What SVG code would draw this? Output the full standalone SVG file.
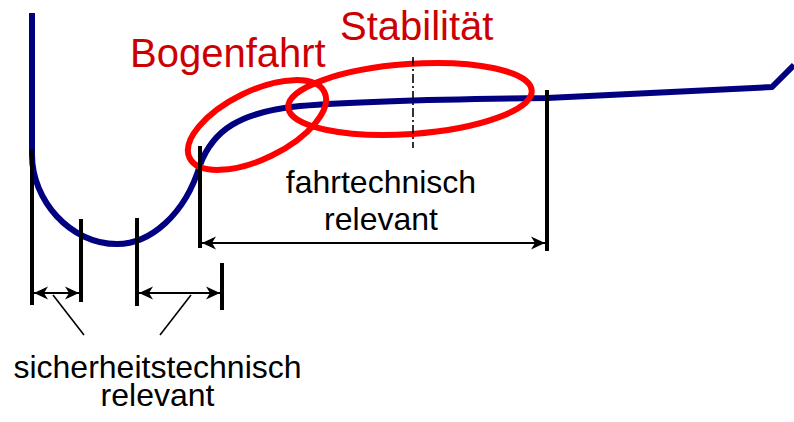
<svg xmlns="http://www.w3.org/2000/svg" width="794" height="422" viewBox="0 0 794 422">
<style>
.curve{fill:none;stroke:#000080;stroke-width:6;stroke-linejoin:round}
.ell{fill:none;stroke:#ff0000;stroke-width:6}
.tick{stroke:#000;stroke-width:4;fill:none}
.dim{stroke:#000;stroke-width:2;fill:none;marker-start:url(#ah);marker-end:url(#ah)}
.lead{stroke:#000;stroke-width:1.6;fill:none}
.red{font-family:"Liberation Sans",Arial,sans-serif;font-size:40px;fill:#cc0000}
.blk{font-family:"Liberation Sans",Arial,sans-serif;font-size:32px;fill:#000;text-anchor:middle}
</style>
<defs>
<marker id="ah" viewBox="0 -7 15 14" markerWidth="15" markerHeight="14" refX="14" refY="0" orient="auto-start-reverse" markerUnits="userSpaceOnUse">
<path d="M14,0 L0,-6.5 L4,0 L0,6.5 Z" fill="#000"/>
</marker>
</defs>
<g id="track">
<path class="curve" d="M32,13 L32,155 C32,200 70,244 117,244 C150,244 185,215 200,165 C213,130 240,112 300,106 C360,101 450,99 547,98 L772,87 L794,65"/>
</g>
<g id="ellipse-bogenfahrt">
<ellipse class="ell" cx="257" cy="125" rx="75" ry="34" transform="rotate(-26 257 125)"/>
</g>
<g id="ellipse-stabilitaet">
<ellipse class="ell" cx="410" cy="99" rx="122" ry="35" transform="rotate(-4 410 99)"/>
</g>
<g id="labels-red">
<text class="red" x="130" y="67">Bogenfahrt</text>
<text class="red" x="340" y="40">Stabilität</text>
</g>
<g id="ticks">
<line class="tick" x1="32" y1="150" x2="32" y2="305"/>
<line class="tick" x1="81" y1="219" x2="81" y2="302"/>
<line class="tick" x1="137" y1="218" x2="137" y2="306"/>
<line class="tick" x1="222" y1="263" x2="222" y2="310"/>
<line class="tick" x1="200" y1="146" x2="200" y2="248"/>
<line class="tick" x1="547" y1="90" x2="547" y2="251"/>
<line x1="413" y1="57" x2="413" y2="148" stroke="#000" stroke-width="1.6" stroke-dasharray="9 3 2 3"/>
</g>
<g id="connectors">
<line class="dim" x1="34" y1="293" x2="79" y2="293"/>
<line class="dim" x1="139" y1="293" x2="220" y2="293"/>
<line class="dim" x1="202" y1="243" x2="545" y2="243"/>
<line class="lead" x1="53" y1="295" x2="84" y2="335"/>
<line class="lead" x1="191" y1="295" x2="160" y2="335"/>
</g>
<g id="label-fahrtechnisch">
<text class="blk" x="381" y="193">fahrtechnisch</text>
<text class="blk" x="381" y="230">relevant</text>
</g>
<g id="label-sicherheitstechnisch">
<text class="blk" x="157.5" y="378">sicherheitstechnisch</text>
<text class="blk" x="157.5" y="406">relevant</text>
</g>
</svg>
